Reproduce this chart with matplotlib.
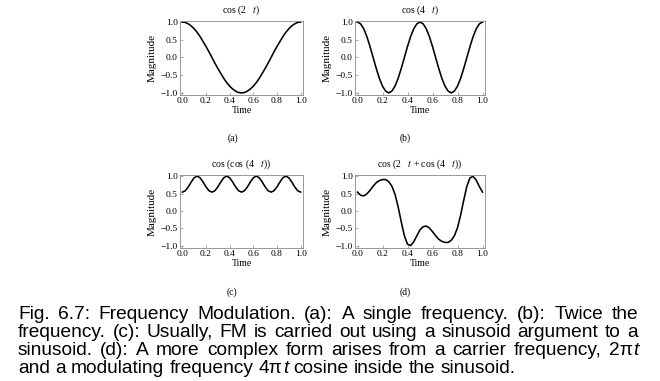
import numpy as np
import matplotlib
matplotlib.use('Agg')
import matplotlib.pyplot as plt

time = np.linspace(0, 1, 41)

cos_2t = [1.00, 0.99, 0.95, 0.89, 0.81, 0.71, 0.59, 0.45, 0.31, 0.16, 0.00,
          -0.16, -0.31, -0.45, -0.59, -0.71, -0.81, -0.89, -0.95, -0.99, -1.00,
          -0.99, -0.95, -0.89, -0.81, -0.71, -0.59, -0.45, -0.31, -0.16, 0.00,
          0.16, 0.31, 0.45, 0.59, 0.71, 0.81, 0.89, 0.95, 0.99, 1.00]

cos_4t = [1.00, 0.95, 0.81, 0.59, 0.31, 0.00, -0.31, -0.59, -0.81, -0.95, -1.00,
          -0.95, -0.81, -0.59, -0.31, 0.00, 0.31, 0.59, 0.81, 0.95, 1.00,
          0.95, 0.81, 0.59, 0.31, 0.00, -0.31, -0.59, -0.81, -0.95, -1.00,
          -0.95, -0.81, -0.59, -0.31, 0.00, 0.31, 0.59, 0.81, 0.95, 1.00]

cos_cos = [0.54, 0.58, 0.69, 0.83, 0.95, 1.00, 0.95, 0.83, 0.69, 0.58, 0.54,
           0.58, 0.69, 0.83, 0.95, 1.00, 0.95, 0.83, 0.69, 0.58, 0.54,
           0.58, 0.69, 0.83, 0.95, 1.00, 0.95, 0.83, 0.69, 0.58, 0.54,
           0.58, 0.69, 0.83, 0.95, 1.00, 0.95, 0.83, 0.69, 0.58, 0.54]

cos_fm = [0.54, 0.45, 0.43, 0.49, 0.59, 0.71, 0.81, 0.87, 0.90, 0.90, 0.84,
          0.71, 0.48, 0.12, -0.31, -0.71, -0.95, -0.99, -0.88, -0.71, -0.54,
          -0.45, -0.43, -0.49, -0.59, -0.71, -0.81, -0.87, -0.90, -0.90, -0.84,
          -0.71, -0.48, -0.12, 0.31, 0.71, 0.95, 0.99, 0.88, 0.70, 0.54]

titles = ['cos (2   $t$)', 'cos (4   $t$)', 'cos (cos (4   $t$))', 'cos (2   $t$ + cos (4   $t$))']
letters = ['(a)', '(b)', '(c)', '(d)']
series = [cos_2t, cos_4t, cos_cos, cos_fm]
xticks = [0.0, 0.2, 0.4, 0.6, 0.8, 1.0]
yticks = [-1.0, -0.5, 0.0, 0.5, 1.0]

caption = [
    'Fig. 6.7: Frequency Modulation. (a): A single frequency. (b): Twice the',
    'frequency. (c): Usually, FM is carried out using a sinusoid argument to a',
    'sinusoid. (d): A more complex form arises from a carrier frequency, 2\u03c0{t}',
    'and a modulating frequency 4\u03c0{t} cosine inside the sinusoid.',
]

plt.rcParams['font.family'] = 'Liberation Serif'
plt.rcParams['mathtext.fontset'] = 'stix'

W, H = 660, 381
fig = plt.figure(figsize=(W / 100, H / 100), dpi=100)

# axes boxes in pixels: left, top, width, height
boxes = [(180, 21, 123, 74), (355, 21, 130, 74),
         (180, 175, 123, 73), (355, 175, 130, 73)]
letter_pos = [(233, 138), (405, 138), (232, 292), (405, 292)]

for i in range(4):
    l, t, w, h = boxes[i]
    ax = fig.add_axes([l / W, 1 - (t + h) / H, w / W, h / H])
    ax.plot(time, series[i], color='black', lw=1.15)
    ax.set_xlim(-0.02, 1.02)
    ax.set_ylim(-1.06, 1.03)
    ax.set_xticks(xticks)
    ax.set_yticks(yticks)
    ax.set_xticklabels(['%.1f' % v for v in xticks])
    ax.set_yticklabels(['\u22121.0', '\u22120.5', '0.0', '0.5', '1.0'])
    ax.tick_params(direction='in', length=2, width=0.5, color='#888888',
                   labelsize=6.8, pad=1.5)
    for s in ax.spines.values():
        s.set_color('#888888')
        s.set_linewidth(0.6)
    ax.set_title(titles[i], fontsize=7, pad=6)
    ax.set_xlabel('Time', fontsize=7, labelpad=1)
    ax.set_ylabel('Magnitude', fontsize=8, labelpad=3)
    fig.text(letter_pos[i][0] / W, 1 - letter_pos[i][1] / H, letters[i],
             fontsize=7, ha='center', va='center')

# justified caption, drawn word by word
renderer = fig.canvas.get_renderer()
cap_size = 13.8
left, right = 18, 638
baselines = [319, 337, 355, 373]


def draw_word(word, y):
    parts = word.split('{t}')
    objs = []
    cx = 0
    for j, p in enumerate(parts):
        if p:
            tx = fig.text(cx / W, 1 - y / H, p, fontsize=cap_size, family='Liberation Sans',
                          va='baseline', ha='left')
            objs.append(tx)
            cx += tx.get_window_extent(renderer).width
        if j < len(parts) - 1:
            tx = fig.text(cx / W, 1 - y / H, 't', fontsize=cap_size, family='Liberation Sans',
                          style='italic', va='baseline', ha='left')
            objs.append(tx)
            cx += tx.get_window_extent(renderer).width
    return objs, cx


for n, line in enumerate(caption):
    words = line.split(' ')
    drawn = [draw_word(wd, baselines[n]) for wd in words]
    total = sum(d[1] for d in drawn)
    if n < len(caption) - 1:
        gap = (right - left - total) / (len(words) - 1)
    else:
        gap = 0.278 * cap_size * 100 / 72
    x = left
    for objs, wdt in drawn:
        for o in objs:
            px, py = o.get_position()
            o.set_position((px + x / W, py))
        x += wdt + gap

fig.savefig('out.png', dpi=100)
